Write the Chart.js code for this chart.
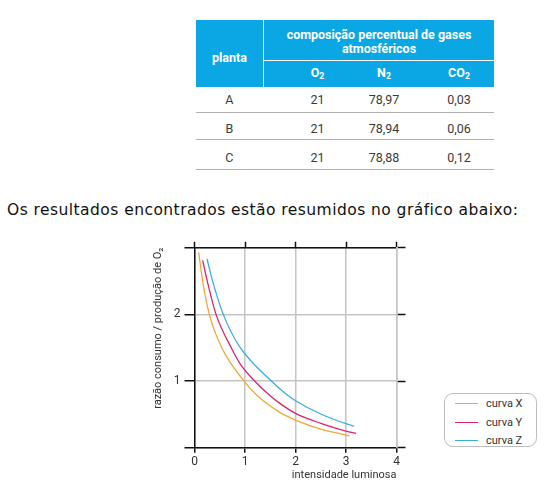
<!DOCTYPE html>
<html>
<head>
<meta charset="utf-8">
<script src="https://cdn.jsdelivr.net/npm/chart.js@4.4.1/dist/chart.umd.min.js"></script>
<style>
html,body{margin:0;padding:0;background:#fff;}
#page{position:relative;width:545px;height:492px;overflow:hidden;font-family:Roboto,"Noto Sans",sans-serif;}
.c{position:absolute;white-space:nowrap;transform:translate(-50%,-50%);line-height:1;}
.hd{color:#fff;font-weight:bold;font-size:12.5px;}
.cell{color:#3a3a3a;font-size:12.5px;}
sub{font-size:70%;vertical-align:-0.25em;line-height:0;}
#band{position:absolute;left:196px;top:20px;width:298px;height:67px;background:#0ba7e4;}
.wl{position:absolute;background:#fff;}
.rl{position:absolute;left:196px;width:298px;height:1px;background:#b0b0b0;}
#sentence{position:absolute;left:7px;top:200px;font-family:"DejaVu Sans",sans-serif;font-size:15.5px;letter-spacing:0.45px;color:#111;white-space:nowrap;line-height:20px;}
#chartBox{position:absolute;left:140px;top:235px;width:280px;height:250px;}
#legend{position:absolute;left:444px;top:393px;width:91px;height:52px;border:1px solid #bdbdbd;border-radius:9px;}
.li{position:absolute;left:0;width:91px;height:18px;}
.ll{position:absolute;left:10px;top:8px;width:23px;height:1.3px;}
.lt{position:absolute;left:41px;top:2px;font-size:11px;color:#333;line-height:14px;white-space:nowrap;}
</style>
</head>
<body>
<div id="page">
  <div id="band"></div>
  <div class="wl" style="left:263px;top:20px;width:1px;height:67px;"></div>
  <div class="wl" style="left:263px;top:60px;width:231px;height:1px;"></div>
  <div id="tbl"></div>
  <div id="sentence"></div>
  <div id="chartBox"><canvas id="c" width="280" height="250"></canvas></div>
  <div id="legend"></div>
</div>
<script>
// ---- table content ----
const tableTitle = ['composição percentual de gases', 'atmosféricos'];
const tableFirstHeader = 'planta';
const tableGasHeaders = ['O<sub>2</sub>', 'N<sub>2</sub>', 'CO<sub>2</sub>'];
const tablePlants = ['A', 'B', 'C'];
const tableO2 = ['21', '21', '21'];
const tableN2 = ['78,97', '78,94', '78,88'];
const tableCO2 = ['0,03', '0,06', '0,12'];
const sentenceText = 'Os resultados encontrados estão resumidos no gráfico abaixo:';

// ---- chart data ----
const seriesNames = ['curva X', 'curva Y', 'curva Z'];
const seriesColors = ['#eea93a', '#d9236f', '#3aaee0'];
const xCurveX = [0.083, 0.162, 0.294, 0.54, 0.98, 1.23, 1.69, 2.0, 2.5, 3.0, 3.07];
const yCurveX = [2.93, 2.495, 2.0, 1.5, 1.0, 0.79, 0.53, 0.415, 0.28, 0.19, 0.178];
const xCurveY = [0.162, 0.254, 0.426, 0.73, 0.914, 1.19, 1.48, 1.69, 2.0, 2.5, 3.0, 3.20];
const yCurveY = [2.81, 2.495, 2.0, 1.495, 1.245, 1.0, 0.79, 0.665, 0.515, 0.366, 0.25, 0.215];
const xCurveZ = [0.248, 0.36, 0.57, 0.88, 1.52, 1.83, 2.0, 2.5, 3.0, 3.16];
const yCurveZ = [2.83, 2.495, 2.0, 1.53, 1.0, 0.795, 0.705, 0.505, 0.36, 0.325];
const xTickLabels = ['0', '1', '2', '3', '4'];
const yTickLabels = ['', '1', '2', ''];
const xTitle = 'intensidade luminosa';
const yTitle = 'razão consumo / produção de O₂';

// ---- build table ----
const tbl = document.getElementById('tbl');
function place(html, cx, cy, cls) {
  const d = document.createElement('div');
  d.className = 'c ' + cls;
  d.style.left = cx + 'px';
  d.style.top = cy + 'px';
  d.innerHTML = html;
  tbl.appendChild(d);
}
place(tableFirstHeader, 229.5, 58, 'hd');
place(tableTitle[0], 379, 34.5, 'hd');
place(tableTitle[1], 379, 48.5, 'hd');
const colCenters = [229.3, 317.5, 384, 459];
tableGasHeaders.forEach((h, i) => place(h, colCenters[i + 1], 73, 'hd'));
const rowCenters = [100, 129, 157.7];
const rowLines = [111.5, 139.3, 169.3];
tablePlants.forEach((p, r) => {
  [p, tableO2[r], tableN2[r], tableCO2[r]].forEach((v, c) => place(v, colCenters[c], rowCenters[r], 'cell'));
  const l = document.createElement('div');
  l.className = 'rl';
  l.style.top = rowLines[r] + 'px';
  tbl.appendChild(l);
});
document.getElementById('sentence').textContent = sentenceText;

// ---- legend ----
const legend = document.getElementById('legend');
const legendRows = [1.2, 19.5, 37.8];
seriesNames.forEach((n, i) => {
  const it = document.createElement('div');
  it.className = 'li';
  it.style.top = legendRows[i] + 'px';
  it.innerHTML = '<div class="ll" style="background:' + seriesColors[i] + '"></div><div class="lt">' + n + '</div>';
  legend.appendChild(it);
});

// ---- chart ----
const xs = [xCurveX, xCurveY, xCurveZ];
const ys = [yCurveX, yCurveY, yCurveZ];
const gridGray = '#c4c4c4';
const ink = '#111';
const tickFont = {family: 'Roboto', size: 12};
new Chart(document.getElementById('c'), {
  type: 'scatter',
  data: {
    datasets: seriesNames.map((n, i) => ({
      label: n,
      data: xs[i].map((x, j) => ({x: x, y: ys[i][j]})),
      showLine: true,
      borderColor: seriesColors[i],
      backgroundColor: seriesColors[i],
      borderWidth: 1.3,
      pointRadius: 0,
      fill: false,
      cubicInterpolationMode: 'monotone'
    }))
  },
  options: {
    responsive: false,
    animation: false,
    layout: {padding: 0},
    plugins: {legend: {display: false}, tooltip: {enabled: false}},
    scales: {
      x: {
        type: 'linear', position: 'bottom', min: 0, max: 4,
        ticks: {stepSize: 1, padding: 2, color: '#333', font: tickFont, callback: (v, i) => xTickLabels[i]},
        grid: {color: gridGray, lineWidth: 1.5, tickColor: ink, tickLength: 5, tickWidth: 1.5},
        border: {color: ink, width: 1.5},
        title: {display: true, text: xTitle, align: 'end', color: '#333', font: {family: 'Roboto', size: 11}, padding: {top: 0, bottom: 3}},
        afterFit: s => { s.height = 37.3; }
      },
      x2: {
        type: 'linear', position: 'top', min: 0, max: 4,
        ticks: {stepSize: 1, display: false},
        grid: {drawOnChartArea: false, tickColor: ink, tickLength: 6, tickWidth: 1.5},
        border: {color: ink, width: 1.5},
        afterFit: s => { s.height = 12.7; }
      },
      y: {
        type: 'linear', position: 'left', min: 0, max: 3,
        ticks: {stepSize: 1, padding: 4, color: '#333', font: tickFont, callback: (v, i) => yTickLabels[i]},
        grid: {color: gridGray, lineWidth: 1.5, tickColor: ink, tickLength: 10, tickWidth: 1.5},
        border: {color: ink, width: 1.5},
        title: {display: true, text: yTitle, align: 'end', color: '#333', font: {family: 'Roboto', size: 11}, padding: {top: 11.4, bottom: 0}},
        afterFit: s => { s.width = 54.5; }
      },
      y2: {
        type: 'linear', position: 'right', min: 0, max: 3,
        ticks: {stepSize: 1, display: false},
        grid: {drawOnChartArea: false, tickColor: ink, tickLength: 9, tickWidth: 1.5},
        border: {color: gridGray, width: 1.5},
        afterFit: s => { s.width = 23.5; }
      }
    }
  }
});
</script>
</body>
</html>
